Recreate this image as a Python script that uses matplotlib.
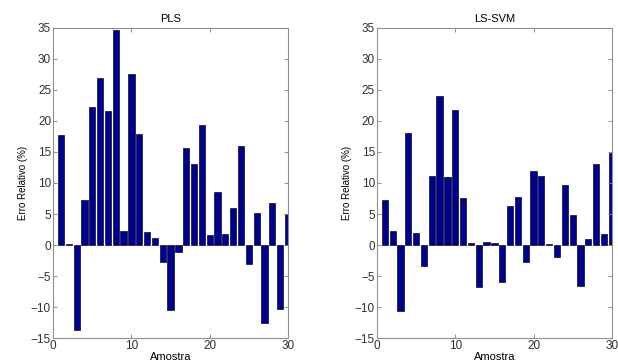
import matplotlib
matplotlib.use("Agg")
import matplotlib.pyplot as plt
import numpy as np

plt.rcParams["font.family"] = ["Liberation Sans", "DejaVu Sans"]

amostras = np.arange(1, 31)
erro_pls = [17.8, 0.1, -13.7, 7.2, 22.2, 26.9, 21.6, 34.6, 2.2, 27.6,
            17.9, 2.1, 1.1, -2.7, -10.4, -1.1, 15.6, 13.1, 19.4, 1.6,
            8.6, 1.8, 5.9, 15.9, -3.0, 5.2, -12.6, 6.8, -10.3, 5.0]
erro_lssvm = [7.3, 2.2, -10.7, 18.0, 2.0, -3.4, 11.2, 24.1, 10.9, 21.7,
              7.6, 0.4, -6.7, 0.5, 0.3, -5.9, 6.3, 7.8, -2.7, 11.9,
              11.2, 0.1, -2.0, 9.6, 4.9, -6.6, 1.0, 13.0, 1.8, 14.9]
titulos = ["PLS", "LS-SVM"]
yticks = [-15, -10, -5, 0, 5, 10, 15, 20, 25, 30, 35]
xticks = [0, 10, 20, 30]

fig = plt.figure(figsize=(6.18, 3.62), dpi=100)
posicoes = [[0.086, 0.066, 0.380, 0.857], [0.610, 0.066, 0.380, 0.857]]

for pos, titulo, valores in zip(posicoes, titulos, [erro_pls, erro_lssvm]):
    ax = fig.add_axes(pos)
    ax.bar(amostras, valores, width=0.8, color="#00008f",
           edgecolor="#202040", linewidth=0.6)
    ax.set_xlim(0, 30)
    ax.set_ylim(-15, 35)
    ax.set_xticks(xticks)
    ax.set_yticks(yticks)
    ax.tick_params(direction="in", top=True, right=True, length=3,
                   width=0.6, color="#808080", labelsize=8.5, pad=1.5,
                   labelcolor="#303030")
    for lado in ax.spines.values():
        lado.set_color("#909090")
        lado.set_linewidth(0.8)
    ax.set_title(titulo, fontsize=8, pad=4)
    ax.set_ylabel("Erro Relativo (%)", fontsize=7, labelpad=2)
    ax.set_xlabel("Amostra", fontsize=8, labelpad=0)

fig.savefig("out.png", dpi=100)
